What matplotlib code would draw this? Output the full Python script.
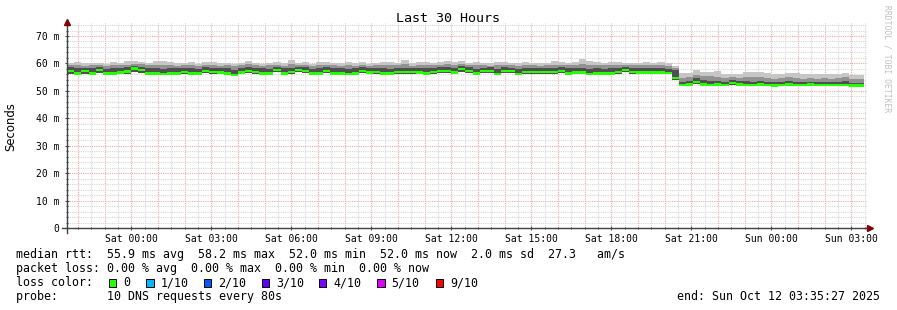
import numpy as np
import matplotlib
matplotlib.use("Agg")
import matplotlib.pyplot as plt
import matplotlib.dates as mdates
import pandas as pd
from datetime import datetime, timedelta

# time window of the graph and the 16 minute consolidation bins
t_start = datetime(2025, 10, 10, 21, 35, 27)
t_end = datetime(2025, 10, 12, 3, 35, 27)
first_bin = datetime(2025, 10, 10, 21, 36)
step = timedelta(minutes=16)

# median rtt per bin (ms)
median = [
    57.3, 56.4, 57.3, 56.4, 57.7, 56.4, 56.4, 56.7, 57.0, 58.2,
    57.7, 56.4, 56.4, 56.1, 56.4, 56.4, 56.9, 56.4, 56.4, 57.2,
    56.9, 56.7, 56.4, 55.7, 56.7, 57.2, 56.9, 56.4, 56.4, 57.7,
    56.4, 56.9, 57.7, 57.3, 56.4, 56.4, 57.3, 56.4, 56.4, 56.1,
    56.4, 57.3, 56.7, 56.9, 56.4, 56.4, 56.9, 56.9, 56.9, 56.7,
    56.4, 56.9, 57.3, 57.3, 56.7, 57.9, 57.3, 56.4, 57.3, 57.3,
    56.1, 57.3, 57.3, 56.1, 56.9, 56.9, 56.9, 56.9, 56.9, 57.3,
    56.4, 56.7, 56.7, 56.1, 56.4, 56.4, 56.4, 56.9, 57.7, 56.9,
    56.7, 56.7, 56.7, 56.7, 56.6, 54.6, 52.2, 52.3, 53.3, 52.3,
    52.2, 52.4, 52.2, 52.8, 52.4, 52.2, 52.2, 52.3, 52.2, 52.0,
    52.2, 52.4, 52.2, 52.2, 52.3, 52.2, 52.2, 52.2, 52.1, 52.2, 52.0, 52.0,
]

# smoke: slowest ping per bin (ms)
smoke_top = [
    60.2, 60.4, 60.0, 60.3, 60.0, 59.8, 60.4, 60.1, 60.9, 60.9,
    60.6, 60.2, 60.9, 60.9, 60.7, 60.0, 60.3, 60.5, 59.9, 60.4,
    60.6, 60.0, 60.3, 59.8, 60.2, 60.8, 60.1, 59.9, 60.3, 60.6,
    60.0, 61.2, 60.2, 60.4, 59.9, 60.6, 60.7, 60.2, 60.1, 60.6,
    60.0, 60.5, 59.9, 60.3, 60.6, 60.4, 60.1, 61.3, 60.0, 60.4,
    60.6, 60.2, 60.4, 60.9, 60.5, 61.0, 60.3, 60.7, 60.1, 60.0,
    60.4, 60.6, 60.2, 60.0, 60.4, 60.2, 60.0, 60.3, 60.8, 60.6,
    60.1, 60.7, 61.6, 60.8, 60.5, 60.3, 60.6, 60.4, 60.2, 60.1,
    60.3, 60.5, 60.2, 60.4, 60.0, 59.2, 56.4, 56.5, 57.6, 57.0,
    57.0, 57.1, 56.0, 56.2, 56.3, 56.9, 56.8, 57.0, 56.4, 56.0,
    56.2, 56.4, 56.4, 56.0, 56.0, 56.0, 56.1, 56.0, 56.0, 56.4, 55.8, 55.8,
]

# smoke: upper edge of the medium grey band (ms)
smoke_mid = [
    59.4, 59.5, 59.2, 59.6, 59.3, 59.0, 59.6, 59.3, 59.6, 59.8,
    59.7, 59.4, 59.6, 59.5, 59.4, 59.2, 59.5, 59.6, 59.1, 59.5,
    59.6, 59.2, 59.4, 59.0, 59.4, 59.8, 59.3, 59.1, 59.4, 59.6,
    59.2, 59.7, 59.5, 59.6, 59.0, 59.5, 59.6, 59.4, 59.2, 59.5,
    59.2, 59.6, 59.1, 59.4, 59.5, 59.4, 59.3, 59.8, 59.2, 59.5,
    59.6, 59.4, 59.5, 59.7, 59.5, 59.9, 59.4, 59.6, 59.3, 59.2,
    59.5, 59.6, 59.4, 59.2, 59.5, 59.3, 59.2, 59.4, 59.6, 59.6,
    59.3, 59.6, 59.7, 59.6, 59.5, 59.4, 59.6, 59.5, 59.4, 59.3,
    59.4, 59.5, 59.4, 59.5, 59.2, 58.4, 54.8, 55.0, 55.9, 55.4,
    55.3, 55.2, 54.6, 54.9, 54.8, 55.2, 55.0, 55.1, 54.8, 54.5,
    54.7, 54.9, 54.8, 54.5, 54.6, 54.5, 54.6, 54.5, 54.6, 54.9, 54.3, 54.3,
]

# smoke: upper edge of the dark band around the median (ms)
smoke_dark = [
    58.6, 58.2, 58.5, 58.4, 58.7, 58.0, 58.3, 58.4, 58.6, 59.0,
    58.8, 58.3, 58.2, 58.0, 58.3, 58.2, 58.5, 58.4, 58.0, 58.6,
    58.4, 58.2, 58.3, 57.6, 58.3, 58.6, 58.4, 58.2, 58.1, 58.8,
    58.2, 58.4, 58.8, 58.6, 58.0, 58.3, 58.6, 58.2, 58.3, 57.9,
    58.2, 58.6, 58.2, 58.3, 58.2, 58.1, 58.4, 58.5, 58.3, 58.4,
    58.2, 58.4, 58.6, 58.7, 58.3, 59.0, 58.6, 58.1, 58.5, 58.6,
    57.9, 58.6, 58.5, 57.8, 58.3, 58.2, 58.4, 58.3, 58.4, 58.6,
    58.2, 58.3, 58.4, 58.0, 58.2, 58.1, 58.3, 58.3, 58.8, 58.3,
    58.3, 58.4, 58.2, 58.4, 58.1, 57.6, 53.4, 53.6, 54.6, 53.8,
    53.5, 53.6, 53.2, 54.0, 53.6, 53.5, 53.3, 53.6, 53.4, 53.1,
    53.3, 53.6, 53.4, 53.2, 53.4, 53.2, 53.3, 53.2, 53.2, 53.6, 53.0, 53.0,
]

# smoke: fastest ping per bin (ms)
smoke_bot = [
    56.2, 55.9, 56.3, 56.0, 56.4, 55.9, 55.8, 56.1, 56.3, 56.9,
    56.5, 55.9, 55.9, 55.6, 56.0, 55.9, 56.2, 55.8, 55.9, 56.4,
    56.2, 56.0, 55.9, 55.3, 56.1, 56.5, 56.2, 55.9, 55.9, 56.8,
    55.9, 56.3, 56.8, 56.5, 55.8, 55.9, 56.6, 55.9, 55.8, 55.6,
    55.9, 56.5, 56.1, 56.2, 55.8, 55.9, 56.3, 56.3, 56.2, 56.1,
    55.8, 56.2, 56.6, 56.6, 56.1, 57.0, 56.5, 55.9, 56.6, 56.5,
    55.6, 56.6, 56.5, 55.6, 56.3, 56.2, 56.3, 56.2, 56.3, 56.6,
    55.9, 56.1, 56.0, 55.6, 55.9, 55.9, 55.9, 56.3, 56.9, 56.3,
    56.1, 56.1, 56.1, 56.0, 56.0, 54.0, 51.9, 51.9, 52.5, 52.0,
    51.9, 52.0, 51.9, 52.3, 52.0, 51.9, 51.9, 52.0, 51.9, 51.8,
    51.9, 52.0, 51.9, 51.9, 52.0, 51.9, 51.9, 51.9, 51.8, 51.9, 51.8, 51.8,
]

loss_labels = ["0", "1/10", "2/10", "3/10", "4/10", "5/10", "9/10"]
loss_colors = ["#26ff00", "#00b8ff", "#0059ff", "#5e00ff", "#7e00ff", "#dd00ff", "#ff0000"]

rtt_line = "median rtt:  55.9 ms avg  58.2 ms max  52.0 ms min  52.0 ms now  2.0 ms sd  27.3   am/s"
loss_line = "packet loss: 0.00 % avg  0.00 % max  0.00 % min  0.00 % now"
probe_line = "probe:       10 DNS requests every 80s"
end_line = "end: Sun Oct 12 03:35:27 2025"

W, H = 897, 310
mono = "DejaVu Sans Mono"

fig = plt.figure(figsize=(W / 100, H / 100), dpi=100)
fig.patch.set_facecolor("white")

# plot area in pixels: x 67..867, y 228 (0 ms) upward
ymax = 74.6
ax_left, ax_right, ax_bottom = 67, 867, 228
ax_top = ax_bottom - ymax * 192 / 70
ax = fig.add_axes([ax_left / W, 1 - ax_bottom / H, (ax_right - ax_left) / W, (ax_bottom - ax_top) / H])
ax.set_facecolor("white")

n = len(median)
edges = [first_bin + i * step for i in range(n + 1)]
xe = mdates.date2num(edges)


def ext(a):
    a = np.asarray(a, dtype=float)
    return np.append(a, a[-1])


med = ext(median)
ax.fill_between(xe, ext(smoke_bot), ext(smoke_top), step="post", color="#c6c6c6", lw=0, zorder=2)
ax.fill_between(xe, ext(smoke_bot), ext(smoke_mid), step="post", color="#929292", lw=0, zorder=3)
ax.fill_between(xe, ext(smoke_bot), ext(smoke_dark), step="post", color="#505050", lw=0, zorder=4)
ax.fill_between(xe, med - 0.45, med + 0.45, step="post", color=loss_colors[0], lw=0, zorder=5)

ax.set_xlim(mdates.date2num(t_start), mdates.date2num(t_end))
ax.set_ylim(0, ymax)

# grid: grey every 30 min / 2 ms, red every hour / 10 ms (behind the smoke)
for t in pd.date_range("2025-10-10 22:00", t_end, freq="30min"):
    c = "#f2a8a8" if t.minute == 0 else "#d6d6d6"
    ax.axvline(mdates.date2num(t), color=c, lw=0.8, ls=(0, (1, 1)), zorder=1)
for v in range(2, 75, 2):
    c = "#f2a8a8" if v % 10 == 0 else "#d6d6d6"
    ax.axhline(v, color=c, lw=0.8, ls=(0, (1, 1)), zorder=1)

for s in ax.spines.values():
    s.set_visible(False)

ax.xaxis.set_major_locator(mdates.HourLocator(byhour=range(0, 24, 3)))
ax.xaxis.set_major_formatter(mdates.DateFormatter("%a %H:%M"))
ax.xaxis.set_minor_locator(mdates.MinuteLocator(byminute=[0, 30]))
ax.yaxis.set_major_locator(plt.MultipleLocator(10))
ax.yaxis.set_minor_locator(plt.MultipleLocator(2))
ax.yaxis.set_major_formatter(plt.FuncFormatter(lambda v, p: "0" if v == 0 else "%d m" % v))
ax.tick_params(axis="both", which="major", length=3, width=0.8, color="#505050",
               direction="inout", labelsize=7, labelcolor="black")
ax.tick_params(axis="both", which="minor", length=2, width=0.8, color="#505050", direction="inout")
ax.tick_params(axis="x", which="major", pad=3)
ax.tick_params(axis="y", which="major", pad=4)
for lab in ax.get_xticklabels() + ax.get_yticklabels():
    lab.set_family(mono)

# axis lines with arrow heads
fig.add_artist(plt.Line2D([62 / W, 870 / W], [1 - 228 / H] * 2, color="#404040", lw=1))
fig.add_artist(plt.Line2D([67 / W] * 2, [1 - 233 / H, 1 - 24 / H], color="#404040", lw=1))
fig.add_artist(plt.Line2D([870 / W], [1 - 228 / H], marker=">", ms=4, color="#800000", mec="#800000"))
fig.add_artist(plt.Line2D([67 / W], [1 - 22 / H], marker="^", ms=4, color="#800000", mec="#800000"))

fig.text(448 / W, 1 - 19 / H, "Last 30 Hours", family=mono, fontsize=9.6, ha="center", va="center")
fig.text(11 / W, 1 - 127 / H, "Seconds", fontsize=8.4, rotation=90, ha="center", va="center")
fig.text(887 / W, 1 - 59 / H, "RRDTOOL / TOBI OETIKER", family=mono, fontsize=5.8,
         rotation=270, ha="center", va="center", color="#c0c0c0")

fs = 8.4
fig.text(16 / W, 1 - 254.5 / H, rtt_line, family=mono, fontsize=fs, va="center")
fig.text(16 / W, 1 - 268.5 / H, loss_line, family=mono, fontsize=fs, va="center")
fig.text(16 / W, 1 - 282.5 / H, "loss color:", family=mono, fontsize=fs, va="center")
label_x = [123.3, 160.7, 218.3, 276, 333.3, 391.7, 450]
for lx, lab, col in zip(label_x, loss_labels, loss_colors):
    fig.add_artist(plt.Rectangle(((lx - 14.5) / W, 1 - 286.5 / H), 7.5 / W, 7.5 / H,
                                 facecolor=col, edgecolor="black", lw=0.7))
    fig.text(lx / W, 1 - 282.5 / H, lab, family=mono, fontsize=fs, va="center")
fig.text(16 / W, 1 - 296.5 / H, probe_line, family=mono, fontsize=fs, va="center")
fig.text(880 / W, 1 - 296.5 / H, end_line, family=mono, fontsize=fs, va="center", ha="right")

fig.savefig("out.png", dpi=100, facecolor="white")
